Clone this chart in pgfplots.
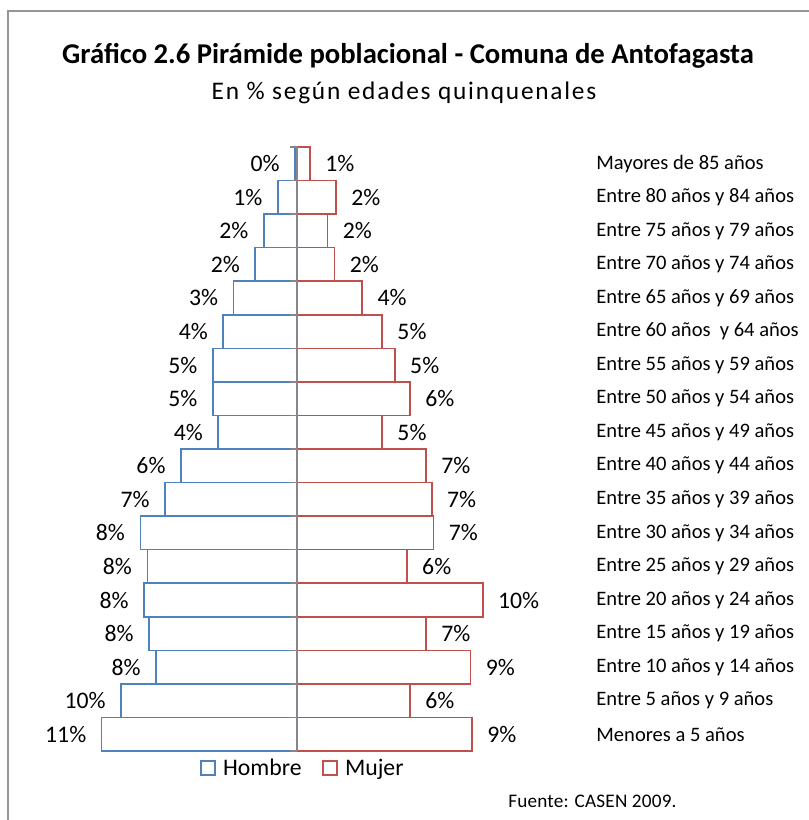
\documentclass[border=0pt]{standalone}
\usepackage{pgfplots}
\pgfplotsset{compat=1.18}
\usepackage{pgfplotstable}
\usepackage{fontspec}
\setmainfont{Carlito}
\newfontfamily\subfont[LetterSpace=7]{Carlito}
\newfontfamily\srcfont[LetterSpace=1]{Carlito}
\definecolor{hblue}{RGB}{79,129,189}
\definecolor{mred}{RGB}{192,80,77}
\definecolor{axgray}{RGB}{134,134,142}
\definecolor{framegray}{RGB}{150,150,150}

% y: 0 = Menores a 5 años ... 17 = Mayores de 85 años
\pgfplotstableread{
y h m
0 10.57 9.47
1 9.52 6.11
2 7.63 9.38
3 8.01 6.98
4 8.28 10.05
5 8.10 5.94
6 8.48 7.38
7 7.14 7.29
8 6.28 6.98
9 4.26 4.60
10 4.56 6.11
11 4.56 5.29
12 3.99 4.60
13 3.43 3.53
14 2.26 2.02
15 1.79 1.64
16 1.04 2.11
17 0.11 0.70
}\datatab

\begin{document}
\begin{tikzpicture}
\begin{scope}[x=0.75pt,y=-0.75pt]
\useasboundingbox (0,0) rectangle (809,820);
\draw[framegray, line width=1.1pt] (8,820) -- (8,11) -- (809,11);
\node[font=\bfseries\fontsize{21.5}{24}\selectfont, anchor=base, inner sep=0pt] at (408,64) {Gráfico 2.6 Pirámide poblacional - Comuna de Antofagasta};
\node[font=\subfont\fontsize{19}{22}\selectfont, anchor=base, inner sep=0pt] at (404,100) {En \% según edades quinquenales};
\node[font=\srcfont\fontsize{14.4}{16}\selectfont, anchor=base west, inner sep=0pt] at (508,807) {Fuente: CASEN 2009.};
\end{scope}
\begin{axis}[
  at={(63.375pt,-563.25pt)}, anchor=south west,
  width=318.75pt, height=453pt, scale only axis,
  xmin=-11.5, xmax=11.5, ymin=-0.5, ymax=17.5,
  xbar, bar width=1, bar shift=0pt,
  axis line style={draw=none},
  xtick=\empty,
  ytick={0,...,17},
  yticklabels={Menores a 5 años, Entre 5 años y 9 años, Entre 10 años y 14 años, Entre 15 años y 19 años, Entre 20 años y 24 años, Entre 25 años y 29 años, Entre 30 años y 34 años, Entre 35 años y 39 años, Entre 40 años y 44 años, Entre 45 años y 49 años, Entre 50 años y 54 años, Entre 55 años y 59 años, Entre 60 años{} \ y 64 años, Entre 65 años y 69 años, Entre 70 años y 74 años, Entre 75 años y 79 años, Entre 80 años y 84 años, Mayores de 85 años},
  yticklabel pos=right,
  major tick length=0pt,
  yticklabel style={anchor=west, inner xsep=0pt, xshift=65pt, font=\fontsize{15.4}{18}\selectfont},
  /pgf/number format/assume math mode=true,
  nodes near coords={\pgfmathprintnumber[fixed,precision=0]{\pgfplotspointmeta}\%},
  every node near coord/.append style={font=\fontsize{17.8}{20}\selectfont, inner xsep=11pt, inner ysep=0pt, text=black},
  legend style={draw=none, fill=none, legend columns=2, at={(0.272,-0.0281)}, anchor=west, inner sep=0pt, font=\fontsize{17.8}{20}\selectfont, nodes={inner xsep=5.5pt}, /tikz/every even column/.append style={column sep=9.95pt}},
  legend image code/.code={\draw[#1, fill=white, line width=1.1pt] (0pt,-5.25pt) rectangle (10.5pt,5.25pt);},
  clip=false,
]
\addplot[draw=hblue, fill=none, line width=1.2pt, point meta=\thisrow{h}, every node near coord/.append style={anchor=east}] table[x expr=-\thisrow{h}, y=y] {\datatab};
\addlegendentry{Hombre}
\addplot[draw=mred, fill=none, line width=1.2pt, point meta=\thisrow{m}, every node near coord/.append style={anchor=west}] table[x=m, y=y] {\datatab};
\addlegendentry{Mujer}
\draw[axgray, line width=1.5pt] (axis cs:0,-0.5) -- (axis cs:0,17.52);
\pgfplotsinvokeforeach{-0.5,0.5,...,17.5}{\draw[axgray, line width=1.1pt] (axis cs:0,#1) -- ++(-5.25pt,0pt);}
\end{axis}
\end{tikzpicture}
\end{document}
